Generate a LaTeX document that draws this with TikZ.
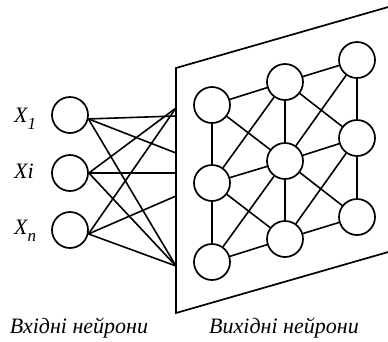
\documentclass[tikz,border=0pt]{standalone}
\usepackage{fontspec}
\setmainfont{Liberation Serif}
\begin{document}
\begin{tikzpicture}[x=1pt,y=-1pt,
  neuron/.style={circle,draw,line width=1.7pt,minimum size=36pt,inner sep=0pt},
  link/.style={line width=1.6pt},
  lbl/.style={font=\fontsize{22}{26}\selectfont\itshape,inner sep=0pt}]
\useasboundingbox (0,0) rectangle (388,341);
% plane
\draw[line width=1.7pt] (390,6.5) -- (176,68) -- (176,313) -- (390,251.5);
% plane edge points
\coordinate (p1) at (176,108);
\coordinate (p2) at (176,116);
\coordinate (p3) at (176,153);
\coordinate (p4) at (176,173);
\coordinate (p5) at (176,196);
\coordinate (p6) at (176,266);
% inputs
\node[neuron] (x1) at (70,115) {};
\node[neuron] (xi) at (70,173) {};
\node[neuron] (xn) at (70,230) {};
\node[lbl,anchor=base west] at (14,122) {X\raisebox{-7pt}{\fontsize{17}{19}\selectfont 1}};
\node[lbl,anchor=base west] at (14,178) {Xi};
\node[lbl,anchor=base west] at (14,234) {X\raisebox{-7pt}{\fontsize{17}{19}\selectfont n}};
\draw[link] (x1.-12) -- (p2);
\draw[link] (x1.-12) -- (p3);
\draw[link] (x1.-12) -- (p6);
\draw[link] (xi.east) -- (p1);
\draw[link] (xi.east) -- (p4);
\draw[link] (xi.east) -- (p6);
\draw[link] (xn.-12) -- (p1);
\draw[link] (xn.-12) -- (p5);
\draw[link] (xn.-12) -- (p6);
% output grid
\node[neuron] (A) at (212,105) {};
\node[neuron] (B) at (285,82) {};
\node[neuron] (C) at (357,60) {};
\node[neuron] (D) at (212,183) {};
\node[neuron] (E) at (285,161) {};
\node[neuron] (F) at (357,138) {};
\node[neuron] (G) at (212,262) {};
\node[neuron] (H) at (285,239) {};
\node[neuron] (I) at (357,217) {};
\foreach \a/\b in {A/B,B/C,D/E,E/F,G/H,H/I,A/D,D/G,B/E,E/H,C/F,F/I,A/E,E/I,B/F,D/H,D/B,G/E,E/C,H/F}
  \draw[link] (\a) -- (\b);
% captions
\node[lbl,anchor=base] at (79,333) {Вхідні нейрони};
\node[lbl,anchor=base] at (284,333) {Вихідні нейрони};
\end{tikzpicture}
\end{document}
